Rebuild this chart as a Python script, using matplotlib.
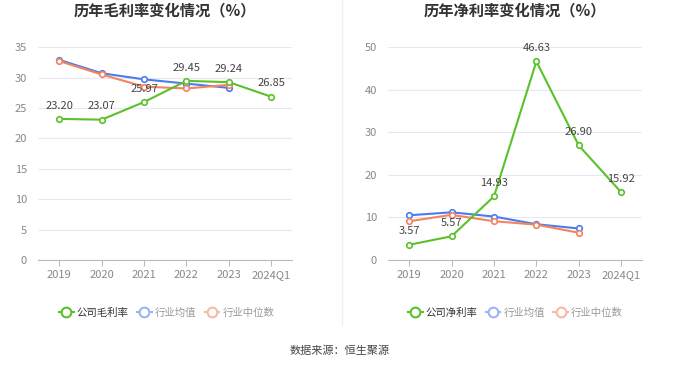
import matplotlib.pyplot as plt
from matplotlib.lines import Line2D

plt.rcParams['font.family'] = ['Noto Sans CJK SC', 'DejaVu Sans']

years = ['2019', '2020', '2021', '2022', '2023', '2024Q1']

gross_company = [23.20, 23.07, 25.97, 29.45, 29.24, 26.85]
gross_avg = [32.9, 30.7, 29.7, 29.0, 28.3]
gross_median = [32.7, 30.5, 28.5, 28.2, 28.8]

net_company = [3.57, 5.57, 14.93, 46.63, 26.90, 15.92]
net_avg = [10.5, 11.2, 10.2, 8.4, 7.4]
net_median = [9.1, 10.6, 9.1, 8.3, 6.4]

GREEN = '#5ac12a'
BLUE = '#4a7cf0'
ORANGE = '#f4835e'


def draw(ax, company, avg, median, ymax, step, title):
    x = list(range(len(years)))
    ax.plot(x[:len(avg)], avg, color=BLUE, lw=1.5, marker='o', ms=4,
            mfc='white', mec=BLUE, mew=1.2, zorder=3)
    ax.plot(x[:len(median)], median, color=ORANGE, lw=1.5, marker='o', ms=4,
            mfc='white', mec=ORANGE, mew=1.2, zorder=3)
    ax.plot(x, company, color=GREEN, lw=1.5, marker='o', ms=4,
            mfc='white', mec=GREEN, mew=1.2, zorder=4)
    for xi, v in zip(x, company):
        ax.annotate(f'{v:.2f}', (xi, v), xytext=(0, 6), textcoords='offset points',
                    ha='center', va='bottom', fontsize=8, color='#444444', zorder=5)
    ax.set_xlim(-0.5, len(years) - 0.5)
    ax.set_ylim(0, ymax)
    ax.set_yticks(range(0, ymax + 1, step))
    ax.set_xticks(x, years)
    ax.grid(axis='y', color='#e6e9f2', lw=0.8)
    ax.set_axisbelow(True)
    for s in ['top', 'right', 'left']:
        ax.spines[s].set_visible(False)
    ax.spines['bottom'].set_color('#bbbbbb')
    ax.tick_params(axis='y', length=0, labelsize=8, colors='#888888', pad=8)
    ax.tick_params(axis='x', length=4, color='#bbbbbb', labelsize=8, colors='#888888')
    ax.set_title(title, fontsize=11, fontweight='bold', color='#333333', pad=23)


fig = plt.figure(figsize=(6.8, 3.67), dpi=100)
ax1 = fig.add_axes([0.056, 0.2916, 0.374, 0.580])
ax2 = fig.add_axes([0.5706, 0.2916, 0.374, 0.580])

draw(ax1, gross_company, gross_avg, gross_median, 35, 5, '历年毛利率变化情况（%）')
draw(ax2, net_company, net_avg, net_median, 50, 10, '历年净利率变化情况（%）')

fig.add_artist(Line2D([0.503, 0.503], [0.115, 1.0], color='#f0f0f0', lw=1))


def legend(x, name):
    handles = [
        Line2D([], [], color=GREEN, lw=1.5, marker='o', ms=7, mfc='white', mec=GREEN, mew=1.5),
        Line2D([], [], color='#9bb5f5', lw=1.5, marker='o', ms=7, mfc='white', mec='#9bb5f5', mew=1.5),
        Line2D([], [], color='#f8b9a3', lw=1.5, marker='o', ms=7, mfc='white', mec='#f8b9a3', mew=1.5),
    ]
    leg = fig.legend(handles, [name, '行业均值', '行业中位数'], loc='center',
                     bbox_to_anchor=(x, 0.147), ncol=3, frameon=False, fontsize=7.5,
                     handlelength=1.4, handletextpad=0.3, columnspacing=0.8)
    for t, c in zip(leg.get_texts(), ['#333333', '#999999', '#999999']):
        t.set_color(c)


legend(0.245, '公司毛利率')
legend(0.758, '公司净利率')

fig.text(0.5, 0.043, '数据来源：恒生聚源', ha='center', va='center', fontsize=8, color='#444444')

fig.savefig('out.png', dpi=100)
